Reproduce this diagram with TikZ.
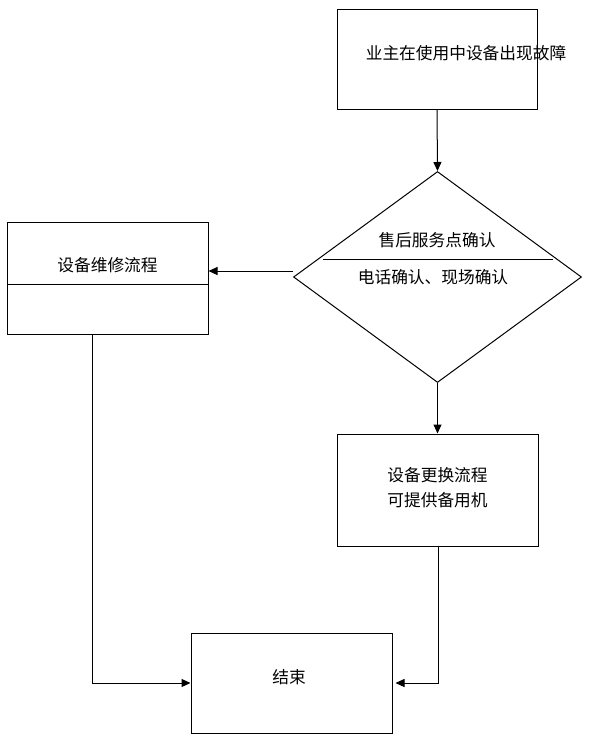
\documentclass[tikz,border=0pt]{standalone}
\usepackage{fontspec}
\setmainfont{Noto Sans CJK SC}
\usetikzlibrary{shapes.geometric,arrows.meta}
\begin{document}
\begin{tikzpicture}[x=1pt,y=-1pt,
  box/.style={draw,line width=1pt,rectangle,inner sep=0pt},
  txt/.style={inner sep=0pt,font=\fontsize{16.7}{25}\selectfont,align=center},
  arr/.style={line width=1pt,-{Triangle[length=9pt,width=8pt]}},
  ln/.style={line width=1pt}]
\useasboundingbox (0,0) rectangle (607,747);
% top box
\node[box,minimum width=200pt,minimum height=100pt] (top) at (437,59) {};
\node[txt] (toptxt) at (466,53) {业主在使用中设备出现故障};
% decision
\node[draw,line width=1pt,diamond,minimum width=288pt,minimum height=211pt,inner sep=0pt] (dec) at (437.5,277) {};
\coordinate (hl) at (323,259);
\coordinate (hr) at (553,259);
\draw[ln] (hl) -- (hr);
\node[txt] (dect1) at (437,240) {售后服务点确认};
\node[txt] (dect2) at (433,277) {电话确认、现场确认};
% left box
\node[box,minimum width=201pt,minimum height=112pt] (lbox) at (107.5,278) {};
\coordinate (ll) at (7,284);
\draw[ln] (ll) -- (ll -| lbox.east);
\node[txt] (lboxtxt) at (107.5,265) {设备维修流程};
% right box
\node[box,minimum width=201pt,minimum height=112pt] (rbox) at (437.5,490) {};
\node[txt] (rboxtxt) at (437.5,488) {设备更换流程\\可提供备用机};
% end box
\node[box,minimum width=201pt,minimum height=100pt] (end) at (291.5,683) {};
\node[txt] (endtxt) at (289,677) {结束};
% connectors
\draw[arr] (top.south) -- (dec.north);
\coordinate (a1) at (293,271);
\draw[arr] (a1) -- (a1 -| lbox.east);
\draw[arr] (dec.south) -- (rbox.north);
\coordinate (lb) at (92,334);
\draw[arr] (lb) |- (end.west);
\coordinate (rb) at (438,546);
\draw[arr,shorten >=3pt] (rb) |- (end.east);
\end{tikzpicture}
\end{document}
